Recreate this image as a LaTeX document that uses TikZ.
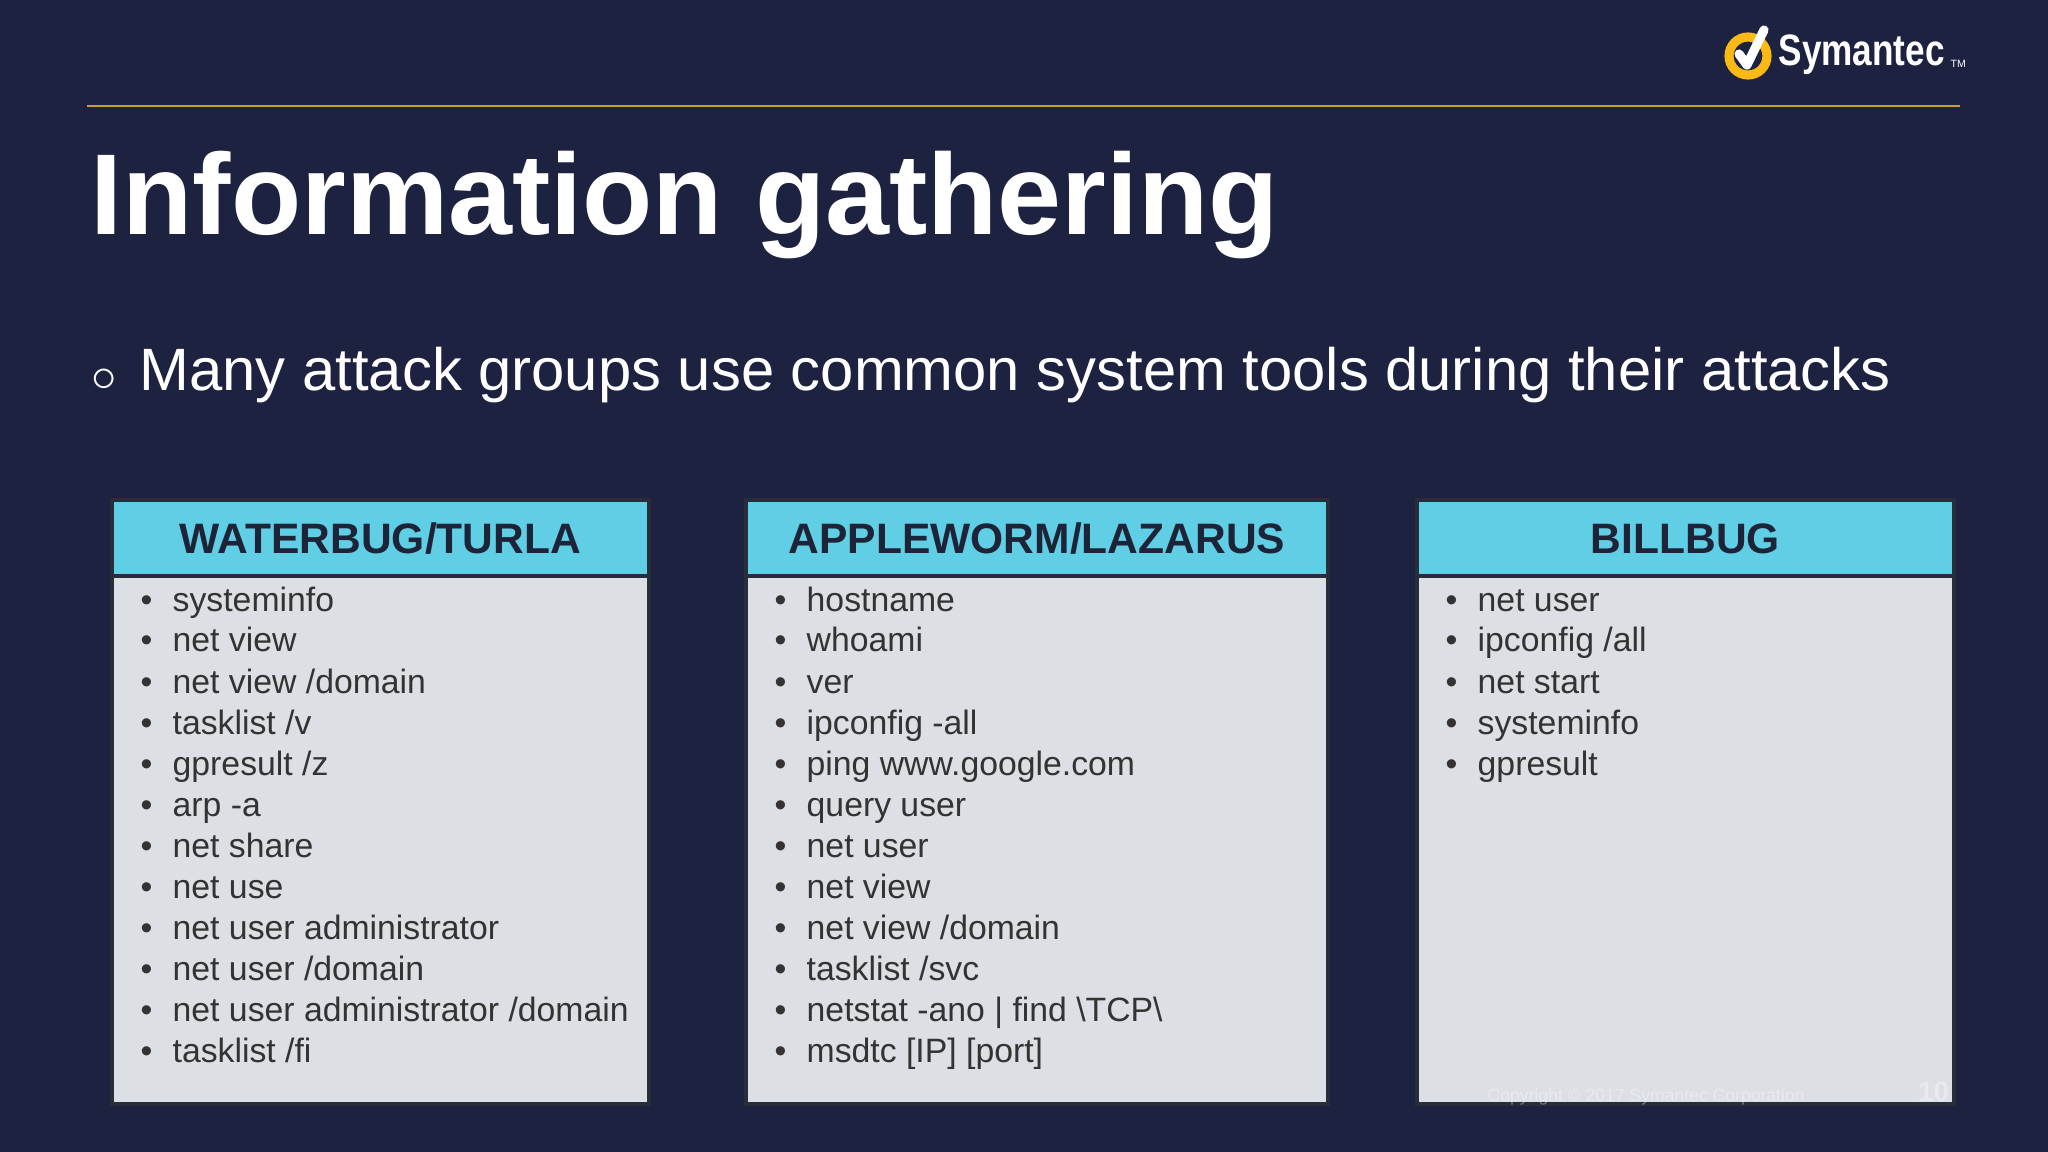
\documentclass[tikz,border=0pt]{standalone}
\usepackage{fontspec}
\setmainfont{Liberation Sans}
\begin{document}
\begin{tikzpicture}[x=0.01cm,y=-0.01cm,
  item/.style={anchor=base west,inner sep=0pt,font=\fontsize{9.6pt}{11pt}\selectfont,text=black!80},
  hdr/.style={anchor=center,font=\fontsize{12.1pt}{14pt}\selectfont\bfseries,text={rgb,255:red,30;green,36;blue,56}},
  hdrbox/.style={fill={rgb,255:red,96;green,206;blue,228},draw={rgb,255:red,40;green,45;blue,60},line width=1.2pt},
  bodybox/.style={fill={rgb,255:red,220;green,223;blue,227},draw={rgb,255:red,40;green,45;blue,60},line width=1.2pt}]
\definecolor{bg}{RGB}{28,34,64}
\fill[bg] (0,0) rectangle (2048,1152);
\useasboundingbox (0,0) rectangle (2048,1152);
% logo
\draw[line width=2.6pt,color={rgb,255:red,250;green,185;blue,20}] (1748,56) circle (19);
\draw[white,line width=2.6pt,line cap=round,line join=round] (1739,54) -- (1747,65) -- (1764,30);
\node[anchor=base west,inner sep=0pt,text=white,xscale=0.8,font=\fontsize{12.5pt}{14pt}\selectfont\bfseries] (logo) at (1778,66) {Symantec};
\node[anchor=base west,inner sep=0pt,text=white,font=\fontsize{3pt}{3pt}\selectfont] (tm) at (1950,68) {TM};
% rule
\coordinate (r1) at (87,106); \coordinate (r2) at (1960,106);
\draw[color={rgb,255:red,200;green,160;blue,40},line width=0.6pt] (r1) -- (r2);
% title
\node[anchor=base west,inner sep=0pt,text=white,font=\fontsize{32.7pt}{38pt}\selectfont\bfseries] (title) at (90,235) {Information gathering};
\node[anchor=base west,inner sep=0pt,text=white,font=\fontsize{14pt}{16pt}\selectfont] (circ) at (91,392) {$\circ$};
\node[anchor=base west,inner sep=0pt,text=white,font=\fontsize{17pt}{20pt}\selectfont] (sub) at (139,391) {Many attack groups use common system tools during their attacks};
% boxes
\foreach \n/\xa/\xb/\t in {A/112/649/{WATERBUG/TURLA},B/746/1328/{APPLEWORM/LAZARUS},C/1417/1954/{BILLBUG}}{
  \path[bodybox] (\xa,576) rectangle (\xb,1104);
  \path[hdrbox] (\xa,500) rectangle (\xb,576);
  \node[hdr] (h\n) at ({(\xa+\xb)/2},539) {\t};
}
\foreach \x/\lst in {112/{systeminfo,net view,net view /domain,tasklist /v,gpresult /z,arp -a,net share,net use,net user administrator,net user /domain,net user administrator /domain,tasklist /fi},
                     746/{hostname,whoami,ver,ipconfig -all,ping www.google.com,query user,net user,net view,net view /domain,tasklist /svc,netstat -ano | find \textbackslash TCP\textbackslash,msdtc [IP] [port]},
                     1417/{net user,ipconfig /all,net start,systeminfo,gpresult}}{
  \foreach \s [count=\i] in \lst {
    \node[item] (it\x-\i) at ({\x+28},{611+41*(\i-1)}) {•};
    \node[item] at ({\x+60},{611+41*(\i-1)}) {\s};
  }
}
\node[anchor=base west,inner sep=0pt,text=white,opacity=0.35,font=\fontsize{5pt}{6pt}\selectfont] (copy) at (1487,1101) {Copyright © 2017 Symantec Corporation};
\node[anchor=base east,inner sep=0pt,text=white,opacity=0.35,font=\fontsize{8pt}{9pt}\selectfont\bfseries] (pg) at (1950,1101) {10};
\end{tikzpicture}
\end{document}
